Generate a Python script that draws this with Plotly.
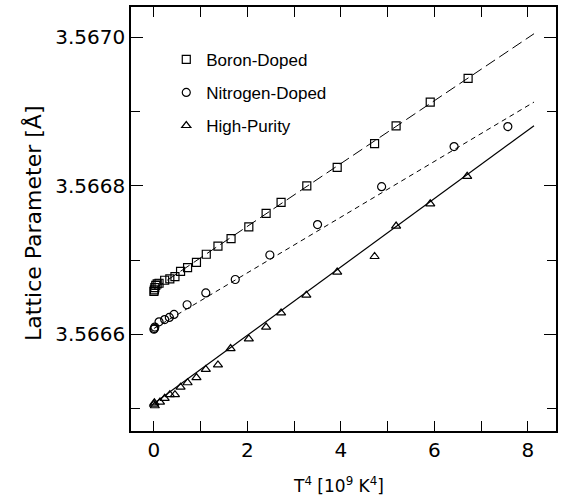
import plotly.graph_objects as go

# ---- data ----
boron_x = [0.0, 0.01, 0.02, 0.04, 0.07, 0.11, 0.23, 0.34, 0.45, 0.57, 0.72, 0.91, 1.12, 1.37, 1.65,
           2.03, 2.40, 2.72, 3.27, 3.92, 4.72, 5.18, 5.91, 6.72]
boron_y = [3.566658, 3.566660, 3.566663, 3.566666, 3.566668, 3.566669, 3.566673, 3.566675,
           3.566678, 3.566685, 3.566690, 3.566697, 3.566708, 3.566719, 3.566729,
           3.566745, 3.566763, 3.566778, 3.566800, 3.566825, 3.566857, 3.566881, 3.566913, 3.566945]
nitro_x = [0.0, 0.01, 0.02, 0.11, 0.23, 0.33, 0.43, 0.71, 1.11, 1.74, 2.48, 3.50, 4.87, 6.42, 7.57]
nitro_y = [3.566607, 3.566608, 3.566610, 3.566617, 3.566620, 3.566623, 3.566627, 3.566640,
           3.566656, 3.566674, 3.566707, 3.566748, 3.566799, 3.566853, 3.566880]
pure_x = [0.0, 0.01, 0.02, 0.13, 0.23, 0.34, 0.45, 0.57, 0.72, 0.91, 1.11, 1.37, 1.64,
          2.03, 2.40, 2.72, 3.26, 3.92, 4.72, 5.18, 5.91, 6.70]
pure_y = [3.566506, 3.566508, 3.566504, 3.566509, 3.566514, 3.566519, 3.566519, 3.566529,
          3.566535, 3.566542, 3.566553, 3.566559, 3.566581, 3.566594, 3.566610, 3.566629,
          3.566653, 3.566684, 3.566705, 3.566746, 3.566776, 3.566813]

fit_x = [0.0, 8.13]
boron_fit_y = [3.566661, 3.567005]
nitro_fit_y = [3.566608, 3.566913]
pure_fit_y = [3.566507, 3.566881]

series_names = ["Boron-Doped", "Nitrogen-Doped", "High-Purity"]

x_tickvals = [0, 2, 4, 6, 8]
x_ticktext = ["0", "2", "4", "6", "8"]
x_minorvals = [1, 3, 5, 7]
y_tickvals = [3.5666, 3.5668, 3.5670]
y_ticktext = ["3.5666", "3.5668", "3.5670"]
y_midvals = [3.5665, 3.5667, 3.5669]
y_quartervals = [3.56655, 3.56665, 3.56675, 3.56685, 3.56695]

x_range = [-0.49, 8.6]
y_range = [3.56647, 3.567041]

fig = go.Figure()

# fit lines
fig.add_trace(go.Scatter(x=fit_x, y=boron_fit_y, mode="lines", showlegend=False,
                         line=dict(color="black", width=1, dash="11px,5px")))
fig.add_trace(go.Scatter(x=fit_x, y=nitro_fit_y, mode="lines", showlegend=False,
                         line=dict(color="black", width=1, dash="5px,4px")))
fig.add_trace(go.Scatter(x=fit_x, y=pure_fit_y, mode="lines", showlegend=False,
                         line=dict(color="black", width=1.2)))

# data points
mk_line = dict(width=1.2, color="black")
fig.add_trace(go.Scatter(x=boron_x, y=boron_y, mode="markers", name=series_names[0],
                         legendgroup="a",
                         marker=dict(symbol="square-open", size=8, color="black", line=mk_line)))
fig.add_trace(go.Scatter(x=nitro_x, y=nitro_y, mode="markers", name=series_names[1],
                         legendgroup="b",
                         marker=dict(symbol="circle-open", size=8, color="black", line=mk_line)))
fig.add_trace(go.Scatter(x=pure_x, y=pure_y, mode="markers", name=series_names[2],
                         legendgroup="c",
                         marker=dict(symbol="triangle-up-open", size=8, color="black", line=mk_line)))

tickfont = dict(family="DejaVu Sans", size=20, color="black")

fig.update_layout(
    xaxis=dict(range=x_range, tickmode="array", tickvals=x_tickvals, ticktext=x_ticktext,
               showline=True, linecolor="black", linewidth=1.5, mirror="ticks",
               ticks="inside", ticklen=10, tickwidth=1.2, tickcolor="black",
               minor=dict(tickmode="array", tickvals=x_minorvals, ticks="inside",
                          ticklen=10, tickwidth=1.2, tickcolor="black", showgrid=False),
               showgrid=False, zeroline=False, tickfont=tickfont),
    yaxis=dict(range=y_range, tickmode="array", tickvals=y_tickvals, ticktext=y_ticktext,
               showline=True, linecolor="black", linewidth=1.5, mirror="ticks",
               ticks="inside", ticklen=12, tickwidth=1.2, tickcolor="black",
               minor=dict(tickmode="array", tickvals=y_midvals, ticks="inside",
                          ticklen=9, tickwidth=1.2, tickcolor="black", showgrid=False),
               showgrid=False, zeroline=False, tickfont=tickfont),
    yaxis2=dict(range=y_range, overlaying="y", side="left", tickmode="array",
                tickvals=y_quartervals, showticklabels=False, showline=False,
                mirror="ticks", ticks="inside", ticklen=5, tickwidth=1.2,
                tickcolor="black", showgrid=False, zeroline=False),
    width=563, height=497,
    margin=dict(l=131, r=5, t=5, b=66),
    paper_bgcolor="white", plot_bgcolor="white",
    showlegend=True,
    legend=dict(x=0.083, y=0.918, xanchor="left", yanchor="top",
                bgcolor="rgba(0,0,0,0)", tracegroupgap=8,
                font=dict(family="Liberation Sans", size=17, color="black")),
    annotations=[
        dict(text="Lattice Parameter [Å]", xref="paper", yref="paper",
             x=-0.229, y=0.49, textangle=-90, showarrow=False,
             xanchor="center", yanchor="middle",
             font=dict(family="DejaVu Sans", size=22, color="black")),
        dict(text="T<sup>4</sup> [10<sup>9</sup> K<sup>4</sup>]", xref="paper", yref="paper",
             x=0.489, y=-0.128, showarrow=False, xanchor="center", yanchor="middle",
             font=dict(family="DejaVu Sans", size=17, color="black")),
    ],
)

fig.write_html("out.html", config={"displayModeBar": False},
               post_script="document.body.style.margin='0';document.body.style.overflow='hidden';")
